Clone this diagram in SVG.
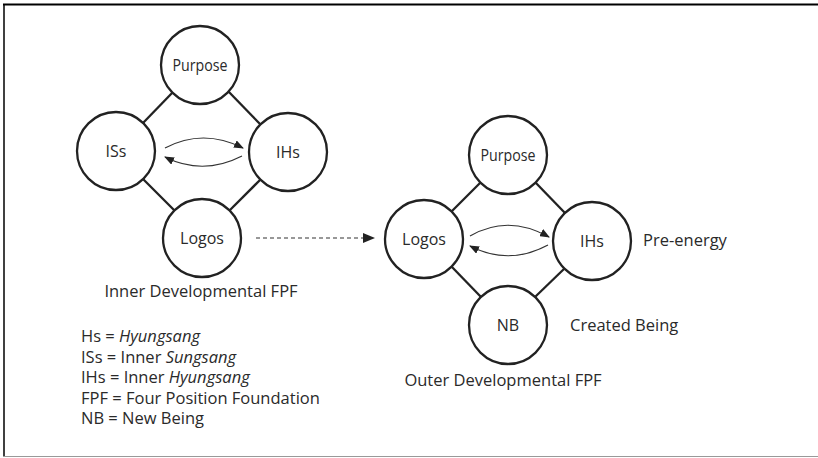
<svg xmlns="http://www.w3.org/2000/svg" width="818" height="458" viewBox="0 0 818 458">
<defs>
<style>
.node circle{fill:#fff;stroke:#222;stroke-width:2.3}
.node text{font-family:"Open Sans","Liberation Sans",sans-serif;font-size:16px;fill:#2a2a2a;text-anchor:middle}
.lbl,.leg{font-family:"Open Sans","Liberation Sans",sans-serif;font-size:16.5px;fill:#2a2a2a}
.edge{stroke:#222;stroke-width:2.3;fill:none}
.arc{stroke:#333;stroke-width:1.2;fill:none}
.dash{stroke:#333;stroke-width:1.2;fill:none;stroke-dasharray:4 3}
</style>
<marker id="ah" markerWidth="10" markerHeight="8" refX="9" refY="4" orient="auto" markerUnits="userSpaceOnUse">
<path d="M0,0 L10,4 L0,8 Z" fill="#222"/>
</marker>
<marker id="ahd" markerWidth="12" markerHeight="10" refX="11" refY="5" orient="auto" markerUnits="userSpaceOnUse">
<path d="M0,0 L12,5 L0,10 Z" fill="#222"/>
</marker>
</defs>
<rect width="818" height="458" fill="#fff"/>
<g id="frame">
<line x1="3" y1="4.5" x2="818" y2="4.5" stroke="#000" stroke-width="2"/>
<line x1="4" y1="4" x2="4" y2="456" stroke="#000" stroke-width="1.5"/>
<line x1="3" y1="456.5" x2="818" y2="456.5" stroke="#999" stroke-width="1"/>
</g>
<g id="connectors">
<line class="edge" x1="173" y1="92" x2="143" y2="123"/>
<line class="edge" x1="228" y1="91" x2="260" y2="124"/>
<line class="edge" x1="143" y1="179" x2="175" y2="211"/>
<line class="edge" x1="260" y1="180" x2="230" y2="210"/>
<line class="edge" x1="481" y1="182" x2="451" y2="212"/>
<line class="edge" x1="535" y1="182" x2="565" y2="213"/>
<line class="edge" x1="451" y1="266" x2="481" y2="297"/>
<line class="edge" x1="565" y1="268" x2="535" y2="297"/>
<path class="arc" d="M165,148 Q203,128 243,148" marker-end="url(#ah)"/>
<path class="arc" d="M242,156 Q203,176 165,157" marker-end="url(#ah)"/>
<path class="arc" d="M470,236 Q508,214 549,237" marker-end="url(#ah)"/>
<path class="arc" d="M548,245 Q509,266 470,246" marker-end="url(#ah)"/>
<path class="dash" d="M256,238 L374,238" marker-end="url(#ahd)"/>
</g>
<g id="in-purpose" class="node"><circle cx="200" cy="65" r="39"/><text x="200" y="71" textLength="55" lengthAdjust="spacingAndGlyphs">Purpose</text></g>
<g id="in-iss" class="node"><circle cx="116" cy="151" r="39"/><text x="116" y="157">ISs</text></g>
<g id="in-ihs" class="node"><circle cx="288" cy="152" r="39"/><text x="288" y="158">IHs</text></g>
<g id="in-logos" class="node"><circle cx="202" cy="238" r="39"/><text x="202" y="244">Logos</text></g>
<g id="out-purpose" class="node"><circle cx="508" cy="155" r="39"/><text x="508" y="161" textLength="55" lengthAdjust="spacingAndGlyphs">Purpose</text></g>
<g id="out-logos" class="node"><circle cx="424" cy="239" r="39"/><text x="424" y="245">Logos</text></g>
<g id="out-ihs" class="node"><circle cx="592" cy="241" r="39"/><text x="592" y="247">IHs</text></g>
<g id="out-nb" class="node"><circle cx="508" cy="325" r="39"/><text x="508" y="331">NB</text></g>
<g id="labels">
<text class="lbl" x="643" y="246">Pre-energy</text>
<text class="lbl" x="570" y="331">Created Being</text>
<text class="lbl" x="201" y="297" text-anchor="middle">Inner Developmental FPF</text>
<text class="lbl" x="503" y="386" text-anchor="middle">Outer Developmental FPF</text>
</g>
<g id="legend">
<text class="leg" x="81" y="342">Hs = <tspan font-style="italic">Hyungsang</tspan></text>
<text class="leg" x="81" y="362.5">ISs = Inner <tspan font-style="italic">Sungsang</tspan></text>
<text class="leg" x="81" y="383">IHs = Inner <tspan font-style="italic">Hyungsang</tspan></text>
<text class="leg" x="81" y="403.5">FPF = Four Position Foundation</text>
<text class="leg" x="81" y="424">NB = New Being</text>
</g>
</svg>
